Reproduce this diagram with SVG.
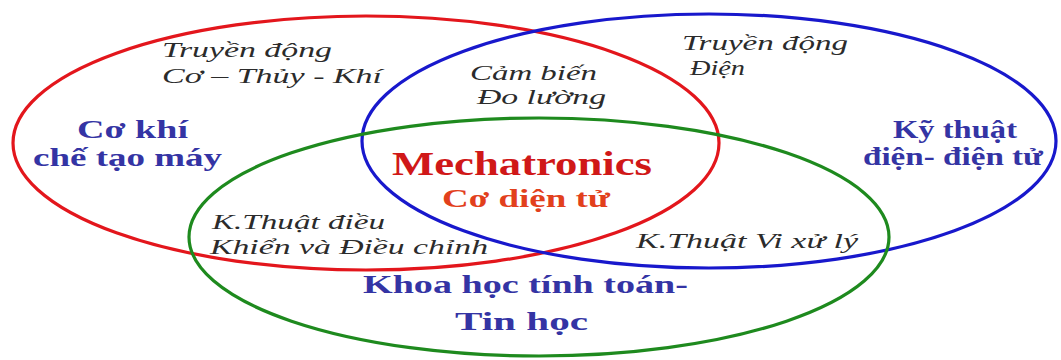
<svg xmlns="http://www.w3.org/2000/svg" width="1061" height="360" viewBox="0 0 1061 360">
<style>
.ring{fill:none;stroke-width:3.2}
.it{font-family:"Liberation Serif",serif;font-style:italic;fill:#2b2b2b;font-size:22px}
.bl{font-family:"Liberation Serif",serif;font-weight:bold;fill:#3434a4;font-size:25px}
.mech{font-family:"Liberation Serif",serif;font-weight:bold;fill:#d01818;font-size:34px}
.cdt{font-family:"Liberation Serif",serif;font-weight:bold;fill:#e2401c;font-size:25px}
</style>
<rect width="1061" height="360" fill="#ffffff"/>
<g id="sets">
<ellipse id="ring-mech" class="ring" cx="366" cy="143" rx="353" ry="127" stroke="#e3161c"/>
<ellipse id="ring-elec" class="ring" cx="709" cy="141" rx="347" ry="127" stroke="#1818cc"/>
<ellipse id="ring-comp" class="ring" cx="539" cy="237" rx="350" ry="119" stroke="#1e8a1e"/>
</g>
<g id="node-mech">
<text class="it" x="162" y="57" textLength="170" lengthAdjust="spacingAndGlyphs">Truyền động</text>
<text class="it" x="162" y="83" textLength="220" lengthAdjust="spacingAndGlyphs">Cơ – Thủy - Khí</text>
<text class="bl" x="77" y="138" textLength="111" lengthAdjust="spacingAndGlyphs">Cơ khí</text>
<text class="bl" x="33" y="166" textLength="189" lengthAdjust="spacingAndGlyphs">chế tạo máy</text>
</g>
<g id="node-sensor">
<text class="it" x="470" y="80" textLength="127" lengthAdjust="spacingAndGlyphs">Cảm biến</text>
<text class="it" x="477" y="104" textLength="129" lengthAdjust="spacingAndGlyphs">Đo lường</text>
</g>
<g id="node-elec">
<text class="it" x="682" y="50" textLength="166" lengthAdjust="spacingAndGlyphs">Truyền động</text>
<text class="it" x="690" y="75" textLength="55" lengthAdjust="spacingAndGlyphs">Điện</text>
<text class="bl" x="893" y="138" textLength="124" lengthAdjust="spacingAndGlyphs">Kỹ thuật</text>
<text class="bl" x="863" y="165" textLength="180" lengthAdjust="spacingAndGlyphs">điện- điện tử</text>
</g>
<g id="node-center">
<text class="mech" x="392" y="175" textLength="260" lengthAdjust="spacingAndGlyphs">Mechatronics</text>
<text class="cdt" x="442" y="207" textLength="168" lengthAdjust="spacingAndGlyphs">Cơ diện tử</text>
</g>
<g id="node-control">
<text class="it" x="212" y="229" textLength="173" lengthAdjust="spacingAndGlyphs">K.Thuật điều</text>
<text class="it" x="210" y="254" textLength="278" lengthAdjust="spacingAndGlyphs">Khiển và Điều chỉnh</text>
</g>
<g id="node-micro">
<text class="it" x="636" y="248" textLength="222" lengthAdjust="spacingAndGlyphs">K.Thuật Vi xử lý</text>
</g>
<g id="node-comp">
<text class="bl" x="363" y="293" textLength="325" lengthAdjust="spacingAndGlyphs" font-size="27">Khoa học tính toán-</text>
<text class="bl" x="455" y="330" textLength="133" lengthAdjust="spacingAndGlyphs" font-size="27">Tin học</text>
</g>
<g id="connectors"/>
</svg>
